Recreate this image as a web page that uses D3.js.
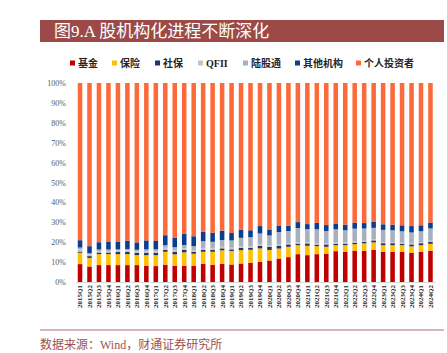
<!DOCTYPE html>
<html>
<head>
<meta charset="utf-8">
<script src="https://cdn.jsdelivr.net/npm/d3@7"></script>
<style>
  body { margin: 0; background: #fff; }
  svg { display: block; }
</style>
</head>
<body>
<svg id="chart" width="447" height="353"></svg>
<script>
// quarters on the x axis
const quarters = ["2015Q1","2015Q2","2015Q3","2015Q4","2016Q1","2016Q2","2016Q3","2016Q4",
  "2017Q1","2017Q2","2017Q3","2017Q4","2018Q1","2018Q2","2018Q3","2018Q4",
  "2019Q1","2019Q2","2019Q3","2019Q4","2020Q1","2020Q2","2020Q3","2020Q4",
  "2021Q1","2021Q2","2021Q3","2021Q4","2022Q1","2022Q2","2022Q3","2022Q4",
  "2023Q1","2023Q2","2023Q3","2023Q4","2024Q1","2024Q2"];

// shares in %
const jijin = [9.0,7.8,8.5,8.5,8.5,8.5,8.5,8.2,8.0, 8.7,8.2,8.2,8.2,9.2,8.7,9.2,8.8,9.3,9.7,
  10.2,10.8,11.8,12.5,14.0,13.5,14.0,14.2,15.5, 15.2,15.8,15.7,16.2,15.2,15.2,15.2,14.7,15.2,15.7];
const baoxian = [5.7,4.3,5.5,5.5,5.5,5.5,5.0,5.3,5.5, 6.5,5.7,6.7,6.0,6.0,6.5,6.7,6.8,6.7,6.5,
  6.7,5.3,5.0,5.2,4.5,4.7,4.0,3.5,3.0, 3.3,3.2,3.7,3.7,3.3,3.3,3.3,3.2,3.3,3.5];
const shebao = [0.6,0.9,0.8,0.8,1.1,1.1,1.2,1.2,1.2, 1.0,1.3,1.2,1.0,1.0,1.0,1.0,0.8,1.2,1.0,
  1.3,1.5,1.3,1.2,0.8,1.2,0.8,1.2,0.7, 0.8,0.8,0.8,1.0,1.0,1.0,0.7,1.0,1.0,1.0];
const qfii = [1.0,0.8,0.8,0.8,0.7,0.8,0.8,0.9,0.9, 1.0,0.9,0.9,0.9,0.9,0.8,0.8,0.8,0.8,0.8,
  0.7,0.6,0.6,0.6,0.6,0.6,0.6,0.6,0.6, 0.6,0.6,0.5,0.5,0.5,0.5,0.5,0.5,0.5,0.5];
const lugutong = [1.0,0.7,0.7,0.7,0.6,0.7,0.7,0.8,0.8, 1.3,1.4,1.6,1.9,3.4,3.2,3.4,3.7,4.2,4.5,
  5.5,5.2,6.4,6.1,7.2,6.6,7.1,6.1,6.7, 6.1,6.4,6.2,5.8,6.2,6.0,5.8,5.5,5.5,6.2];
const qita = [3.7,3.5,3.7,3.8,3.7,4.2,3.7,4.5,4.2, 5.0,4.7,5.5,5.0,4.7,4.5,4.7,3.7,4.0,3.5,
  3.7,3.0,3.3,2.7,3.0,2.5,3.2,3.0,2.7, 2.8,3.0,2.7,3.0,2.8,2.8,3.0,3.2,3.0,3.0];

const seriesNames = ["基金","保险","社保","QFII","陆股通","其他机构","个人投资者"];
const seriesColors = ["#c00000","#ffc000","#203864","#c4c4c4","#a8b0c0","#0b3d91","#fd6a3a"];
const yTicks = [0,10,20,30,40,50,60,70,80,90,100];

// build rows; 个人投资者 is the remainder up to 100%
const rows = quarters.map((q, i) => {
  const r = { q: q };
  r["基金"] = jijin[i];
  r["保险"] = baoxian[i];
  r["社保"] = shebao[i];
  r["QFII"] = qfii[i];
  r["陆股通"] = lugutong[i];
  r["其他机构"] = qita[i];
  r["个人投资者"] = 100 - (jijin[i] + baoxian[i] + shebao[i] + qfii[i] + lugutong[i] + qita[i]);
  return r;
});

const svg = d3.select("#chart");
const serif = "'Liberation Serif', 'Noto Sans CJK SC', serif";

// title bar
svg.append("rect")
  .attr("x", 40).attr("y", 20)
  .attr("width", 404).attr("height", 22)
  .attr("fill", "#9c4a47");
svg.append("text")
  .attr("x", 54).attr("y", 37)
  .attr("fill", "#fff")
  .style("font", `17px ${serif}`)
  .text("图9.A 股机构化进程不断深化");

// legend
const legendX = [70, 112, 155, 198, 243, 295, 356];
const legend = svg.selectAll(".legend")
  .data(seriesNames)
  .enter().append("g")
  .attr("class", "legend")
  .attr("transform", (d, i) => `translate(${legendX[i]},63)`);
legend.append("rect")
  .attr("x", 0).attr("y", -2.5)
  .attr("width", 5).attr("height", 5)
  .attr("fill", (d, i) => seriesColors[i]);
legend.append("text")
  .attr("x", 8).attr("y", 3.5)
  .attr("fill", "#262626")
  .style("font", `bold 10px ${serif}`)
  .text(d => d);

// scales
const x = d3.scaleBand()
  .domain(quarters)
  .range([75.3, 435.2])
  .paddingInner(0.52)
  .paddingOuter(0.26);

const y = d3.scaleLinear()
  .domain([0, 100])
  .range([282, 83]);

const color = d3.scaleOrdinal()
  .domain(seriesNames)
  .range(seriesColors);

const layers = d3.stack().keys(seriesNames)(rows);

svg.append("g")
  .selectAll("g")
  .data(layers)
  .enter().append("g")
  .attr("fill", d => color(d.key))
  .selectAll("rect")
  .data(d => d)
  .enter().append("rect")
  .attr("x", d => x(d.data.q))
  .attr("width", x.bandwidth())
  .attr("y", d => y(d[1]))
  .attr("height", d => y(d[0]) - y(d[1]));

// y axis (labels only)
const yAxis = svg.append("g")
  .attr("transform", "translate(69,0)")
  .call(d3.axisLeft(y).tickValues(yTicks).tickSize(0).tickFormat(d => d + "%"));
yAxis.select(".domain").remove();
yAxis.selectAll("text")
  .attr("fill", "#595959")
  .style("font", `8px ${serif}`);

// x axis
const xAxis = svg.append("g")
  .attr("transform", "translate(0,282)")
  .call(d3.axisBottom(x).tickSize(0).tickSizeOuter(0));
xAxis.select(".domain").attr("stroke", "#d9d9d9");
xAxis.selectAll("text")
  .attr("transform", "rotate(-90)")
  .attr("text-anchor", "end")
  .attr("x", -3)
  .attr("y", 0)
  .attr("dy", "0.35em")
  .attr("fill", "#262626")
  .style("font", `bold 7px ${serif}`);

// footer
svg.append("line")
  .attr("x1", 40).attr("x2", 444)
  .attr("y1", 330).attr("y2", 330)
  .attr("stroke", "#c9a09e")
  .attr("stroke-width", 1.5);
svg.append("text")
  .attr("x", 40).attr("y", 349)
  .attr("fill", "#a0504c")
  .style("font", `12px ${serif}`)
  .text("数据来源：Wind，财通证券研究所");
</script>
</body>
</html>
